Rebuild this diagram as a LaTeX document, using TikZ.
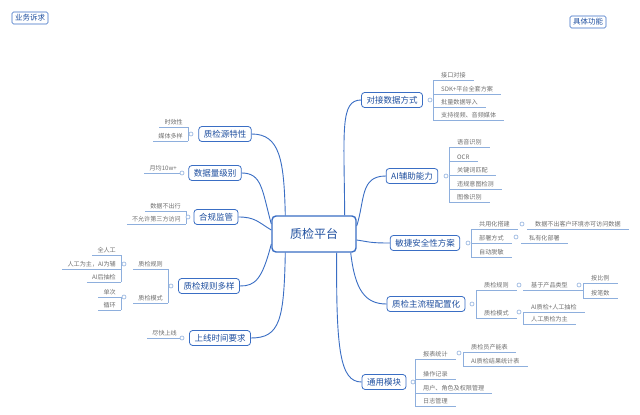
\documentclass[tikz,border=0pt]{standalone}
\usepackage{fontspec}
\setmainfont{Noto Sans CJK SC}
\begin{document}
\begin{tikzpicture}[x=1pt,y=-1pt,
  branch/.style={draw=bl,line width=0.8pt,rounded corners=3pt,fill=white,text=bt,font=\fontsize{8.5}{9}\selectfont,inner xsep=5pt,inner ysep=3.5pt},
  leaftxt/.style={font=\fontsize{6.1}{6.5}\selectfont,text=lt,inner ysep=1.5pt},
  uline/.style={draw=ul,line width=0.7pt},
  conn/.style={draw=bl,line width=0.9pt},
  knob/.style={circle,draw=ul,line width=0.6pt,fill=white,inner sep=0pt,minimum size=4pt},
  tag/.style={draw=bl,line width=0.6pt,rounded corners=1.5pt,text=bt,font=\fontsize{7.5}{8}\selectfont,inner xsep=3pt,inner ysep=2.5pt}]
\definecolor{bl}{HTML}{3A6EC4}
\definecolor{bt}{HTML}{1F4F9F}
\definecolor{lt}{HTML}{707070}
\definecolor{ul}{HTML}{8EAFDD}
\newcommand\rleaf[4]{\node[leaftxt,anchor=south west,inner xsep=8pt] (#1) at (#2,#3) {#4}; \draw[uline] (#2,#3) -- (#1.south east);}
\newcommand\lleaf[4]{\node[leaftxt,anchor=south east,inner xsep=5pt] (#1) at (#2,#3) {#4}; \draw[uline] (#1.south west) -- (#2,#3);}
\useasboundingbox (0,0) rectangle (640,415);
\fill[white] (0,0) rectangle (640,415);
\node[tag] (t1) at (30,18) {业务诉求};
\node[tag] (t2) at (588,22) {具体功能};
% center
\node[draw=bl,line width=1.4pt,rounded corners=4pt,fill=white,text=bt,font=\fontsize{12}{13}\selectfont,minimum width=84pt,minimum height=36pt] (c) at (314,234) {质检平台};
% branches
\node[branch] (b1) at (225,134) {质检源特性};
\node[branch] (b2) at (215,173) {数据量级别};
\node[branch] (b3) at (216,217) {合规监管};
\node[branch] (b4) at (209,286) {质检规则多样};
\node[branch] (b5) at (220,338) {上线时间要求};
\node[branch] (r1) at (392,100) {对接数据方式};
\node[branch] (r2) at (412,176) {AI辅助能力};
\node[branch] (r3) at (425,243) {敏捷安全性方案};
\node[branch] (r4) at (426,304) {质检主流程配置化};
\node[branch] (r5) at (384,382) {通用模块};
% connectors
\draw[conn] (c.north east) ++(-12,0) coordinate (s1) (s1) .. controls (344,130) and (340,100) .. (r1.west);
\draw[conn] (c.east) ++(0,-8) coordinate (s2) (s2) .. controls (365,200) and (360,176) .. (r2.west);
\draw[conn] (c.east) ++(0,6) coordinate (s3) (s3) .. controls (370,242) and (370,243) .. (r3.west);
\draw[conn] (c.south east) ++(-6,0) coordinate (s4) (s4) .. controls (355,290) and (365,304) .. (r4.west);
\draw[conn] (c.south east) ++(-20,0) coordinate (s5) (s5) .. controls (336,350) and (340,382) .. (r5.west);
\draw[conn] (c.north west) ++(14,0) coordinate (s6) (s6) .. controls (284,160) and (280,134) .. (b1.east);
\draw[conn] (c.west) ++(0,-10) coordinate (s7) (s7) .. controls (262,190) and (262,173) .. (b2.east);
\draw[conn] (c.west) ++(0,-4) coordinate (s8) (s8) .. controls (258,222) and (255,217) .. (b3.east);
\draw[conn] (c.west) ++(0,10) coordinate (s9) (s9) .. controls (262,280) and (255,286) .. (b4.east);
\draw[conn] (c.south west) ++(14,0) coordinate (s10) (s10) .. controls (284,320) and (280,338) .. (b5.east);
% left leaves
\draw[uline] (188,127) -- (188,141);
\lleaf{l11}{188}{127}{时效性}
\lleaf{l12}{188}{141}{媒体多样}
\node[knob] (k1) at (191,134) {};
\lleaf{l21}{182}{173}{月均10w+}
\node[knob] (k2) at (182,173) {};
\draw[uline] (186,211) -- (186,224);
\lleaf{l31}{186}{211}{数据不出行}
\lleaf{l32}{186}{224}{不允许第三方访问}
\node[knob] (k3) at (188,217) {};
\draw[uline] (168,269) -- (168,303);
\lleaf{l41}{168}{269}{质检规则}
\lleaf{l42}{168}{303}{质检模式}
\node[knob] (k4) at (171,286) {};
\draw[uline] (121,255) -- (121,282);
\lleaf{l43}{121}{255}{全人工}
\lleaf{l44}{121}{269}{人工为主，AI为辅}
\lleaf{l45}{121}{282}{AI后抽检}
\node[knob] (k41) at (124,264) {};
\draw[uline] (121,297) -- (121,310);
\lleaf{l46}{121}{297}{单次}
\lleaf{l47}{121}{310}{循环}
\node[knob] (k42) at (124,297) {};
\lleaf{l51}{182}{338}{尽快上线}
\node[knob] (k5) at (182,338) {};
% right leaves
\draw[uline] (433,80) -- (433,120);
\rleaf{m11}{433}{80}{接口对接}
\rleaf{m12}{433}{94}{SDK+平台全套方案}
\rleaf{m13}{433}{107}{批量数据导入}
\rleaf{m14}{433}{120}{支持视频、音频媒体}
\node[knob] (q1) at (430,100) {};
\draw[uline] (449,147) -- (449,202);
\rleaf{m21}{449}{147}{语音识别}
\rleaf{m22}{449}{161}{OCR}
\rleaf{m23}{449}{175}{关键词匹配}
\rleaf{m24}{449}{189}{违规意图检测}
\rleaf{m25}{449}{202}{图像识别}
\node[knob] (q2) at (446,176) {};
\draw[uline] (471,229) -- (471,257);
\rleaf{m31}{471}{229}{共用化搭建}
\rleaf{m32}{527}{229}{数据不出客户环境亦可访问数据}
\node[knob] (q31) at (522,224) {};
\rleaf{m33}{471}{243}{部署方式}
\rleaf{m34}{521}{243}{私有化部署}
\node[knob] (q32) at (516,237) {};
\rleaf{m35}{471}{257}{自动脱敏}
\node[knob] (q3) at (468,243) {};
\draw[uline] (476,290) -- (476,318);
\rleaf{m41}{476}{290}{质检规则}
\rleaf{m42}{523}{290}{基于产品类型}
\draw[uline] (m42.south east) -- (583,290);
\node[knob] (q41) at (519,285) {};
\draw[uline] (583,283) -- (583,298);
\rleaf{m43}{583}{283}{按比例}
\rleaf{m44}{583}{298}{按笔数}
\node[knob] (q42) at (579,285) {};
\rleaf{m45}{476}{318}{质检模式}
\draw[uline] (523,312) -- (523,324);
\rleaf{m46}{523}{312}{AI质检+人工抽检}
\rleaf{m47}{523}{324}{人工质检为主}
\node[knob] (q43) at (519,312) {};
\node[knob] (q4) at (472,304) {};
\draw[uline] (415,359) -- (415,406);
\rleaf{m51}{415}{359}{报表统计}
\draw[uline] (463,352) -- (463,366);
\rleaf{m52}{463}{352}{质检员产能表}
\rleaf{m53}{463}{366}{AI质检结果统计表}
\node[knob] (q51) at (459,353) {};
\rleaf{m54}{415}{379}{操作记录}
\rleaf{m55}{415}{393}{用户、角色及权限管理}
\rleaf{m56}{415}{406}{日志管理}
\node[knob] (q5) at (413,382) {};
\end{tikzpicture}
\end{document}
